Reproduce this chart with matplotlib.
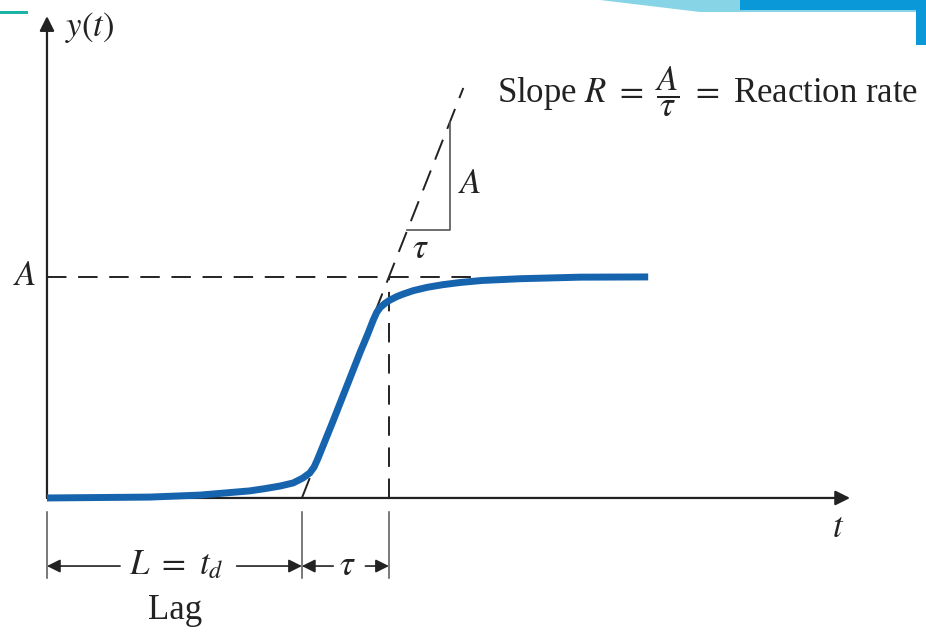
import matplotlib
matplotlib.use("Agg")
import matplotlib.pyplot as plt
from matplotlib.patches import Rectangle, Polygon

plt.rcParams['font.family'] = ['Liberation Serif', 'DejaVu Serif']
plt.rcParams['mathtext.fontset'] = 'stix'

# values (t in units of tau, y in units of A)
A = 1.0
tau = 1.0
L_lag = 2.93
t_end = 9.23
y_top = 2.18

t_curve = [0.0, 1.18, 1.76, 2.33, 2.50, 2.68, 2.83, 2.94, 3.02, 3.07, 3.11, 3.17,
           3.29, 3.45, 3.60, 3.68, 3.75, 3.79, 3.83, 3.89, 3.94, 4.02, 4.09, 4.21,
           4.37, 4.55, 4.75, 5.00, 5.44, 6.13, 6.91]
y_curve = [0.0, 0.004, 0.013, 0.032, 0.042, 0.054, 0.068, 0.090, 0.113, 0.140, 0.175, 0.233,
           0.350, 0.510, 0.660, 0.735, 0.805, 0.840, 0.862, 0.882, 0.895, 0.911, 0.922, 0.938,
           0.953, 0.965, 0.975, 0.984, 0.992, 0.999, 1.0]

blue = '#1764ae'
dash = (0, (10, 6))

fig = plt.figure(figsize=(9.26, 6.35), dpi=100)
ax = fig.add_axes([0, 0, 1, 1])
ax.set_xlim(-0.540, 10.103)
ax.set_ylim(-0.620, 2.253)
ax.axis('off')

# axes with arrows
ax.annotate('', xy=(t_end, 0), xytext=(0, 0),
            arrowprops=dict(arrowstyle='-|>', color='#222222', lw=1.6,
                            mutation_scale=22, shrinkA=0, shrinkB=0))
ax.annotate('', xy=(0, y_top), xytext=(0, 0),
            arrowprops=dict(arrowstyle='-|>', color='#222222', lw=1.6,
                            mutation_scale=22, shrinkA=0, shrinkB=0))

# guide lines
ax.plot([0, 5.0], [A, A], color='#222222', lw=1.4, linestyle=dash)
ax.plot([L_lag + tau, L_lag + tau], [0, A], color='#222222', lw=1.4, linestyle=dash)
y_slope_end = 1.855
ax.plot([L_lag, L_lag + y_slope_end * tau / A], [0, y_slope_end],
        color='#222222', lw=1.4, linestyle=(0, (11, 6)))

# slope triangle
tri_y0 = 1.213
tri_x0 = L_lag + tri_y0 * tau / A
tri_x1 = tri_x0 + 0.49
ax.plot([tri_x0, tri_x1, tri_x1], [tri_y0, tri_y0, tri_x1 - L_lag],
        color='#555555', lw=1.2)

# response curve
ax.plot(t_curve, y_curve, color=blue, lw=5.0, solid_capstyle='butt',
        solid_joinstyle='round', zorder=5)

# dimension lines
y_dim = -0.308
for tx in [0, L_lag, L_lag + tau]:
    ax.plot([tx, tx], [-0.063, -0.362], color='#555555', lw=1.1)

arr = dict(arrowstyle='-|>', color='#222222', lw=1.2, mutation_scale=20,
           shrinkA=0, shrinkB=0)
ax.annotate('', xy=(0, y_dim), xytext=(0.84, y_dim), arrowprops=arr)
ax.annotate('', xy=(L_lag, y_dim), xytext=(2.18, y_dim), arrowprops=arr)
ax.annotate('', xy=(L_lag, y_dim), xytext=(3.29, y_dim), arrowprops=arr)
ax.annotate('', xy=(L_lag + tau, y_dim), xytext=(3.66, y_dim), arrowprops=arr)

fs = 25
ax.text(1.49, y_dim, r'$L\ =\ t_d$', fontsize=fs, ha='center', va='center', color='#222222')
ax.text(3.45, y_dim, r'$\tau$', fontsize=fs, ha='center', va='center', color='#222222')
ax.text(1.47, -0.507, 'Lag', fontsize=fs, ha='center', va='center', color='#222222')

ax.text(0.207, 2.13, r'$y(t)$', fontsize=fs, ha='left', va='center', color='#222222')
ax.text(-0.253, A, r'$A$', fontsize=fs, ha='center', va='center', color='#222222')
ax.text(9.09, -0.136, r'$t$', fontsize=fs, ha='center', va='center', color='#222222')
ax.text(4.86, 1.416, r'$A$', fontsize=fs, ha='center', va='center', color='#222222')
ax.text(4.29, 1.122, r'$\tau$', fontsize=fs, ha='center', va='center', color='#222222')
ax.text(5.17, 1.837, r'Slope $R\ =\ \dfrac{A}{\tau}\ =$ Reaction rate', fontsize=fs,
        ha='left', va='center', color='#222222')

# slide decoration at the edges
W, H = 926, 635
fig.patches.append(Polygon([(600 / W, 1), (1, 1), (1, 1 - 12 / H), (700 / W, 1 - 12 / H)],
                           closed=True, transform=fig.transFigure,
                           facecolor='#86d4e6', edgecolor='none'))
fig.patches.append(Rectangle((740 / W, 1 - 10 / H), 186 / W, 10 / H,
                             transform=fig.transFigure, facecolor='#0b98d8', edgecolor='none'))
fig.patches.append(Rectangle((916 / W, 1 - 45 / H), 10 / W, 45 / H,
                             transform=fig.transFigure, facecolor='#0b98d8', edgecolor='none'))
fig.patches.append(Rectangle((0, 1 - 14 / H), 28 / W, 3 / H,
                             transform=fig.transFigure, facecolor='#1ab3a6', edgecolor='none'))

fig.savefig('out.png', dpi=100)
